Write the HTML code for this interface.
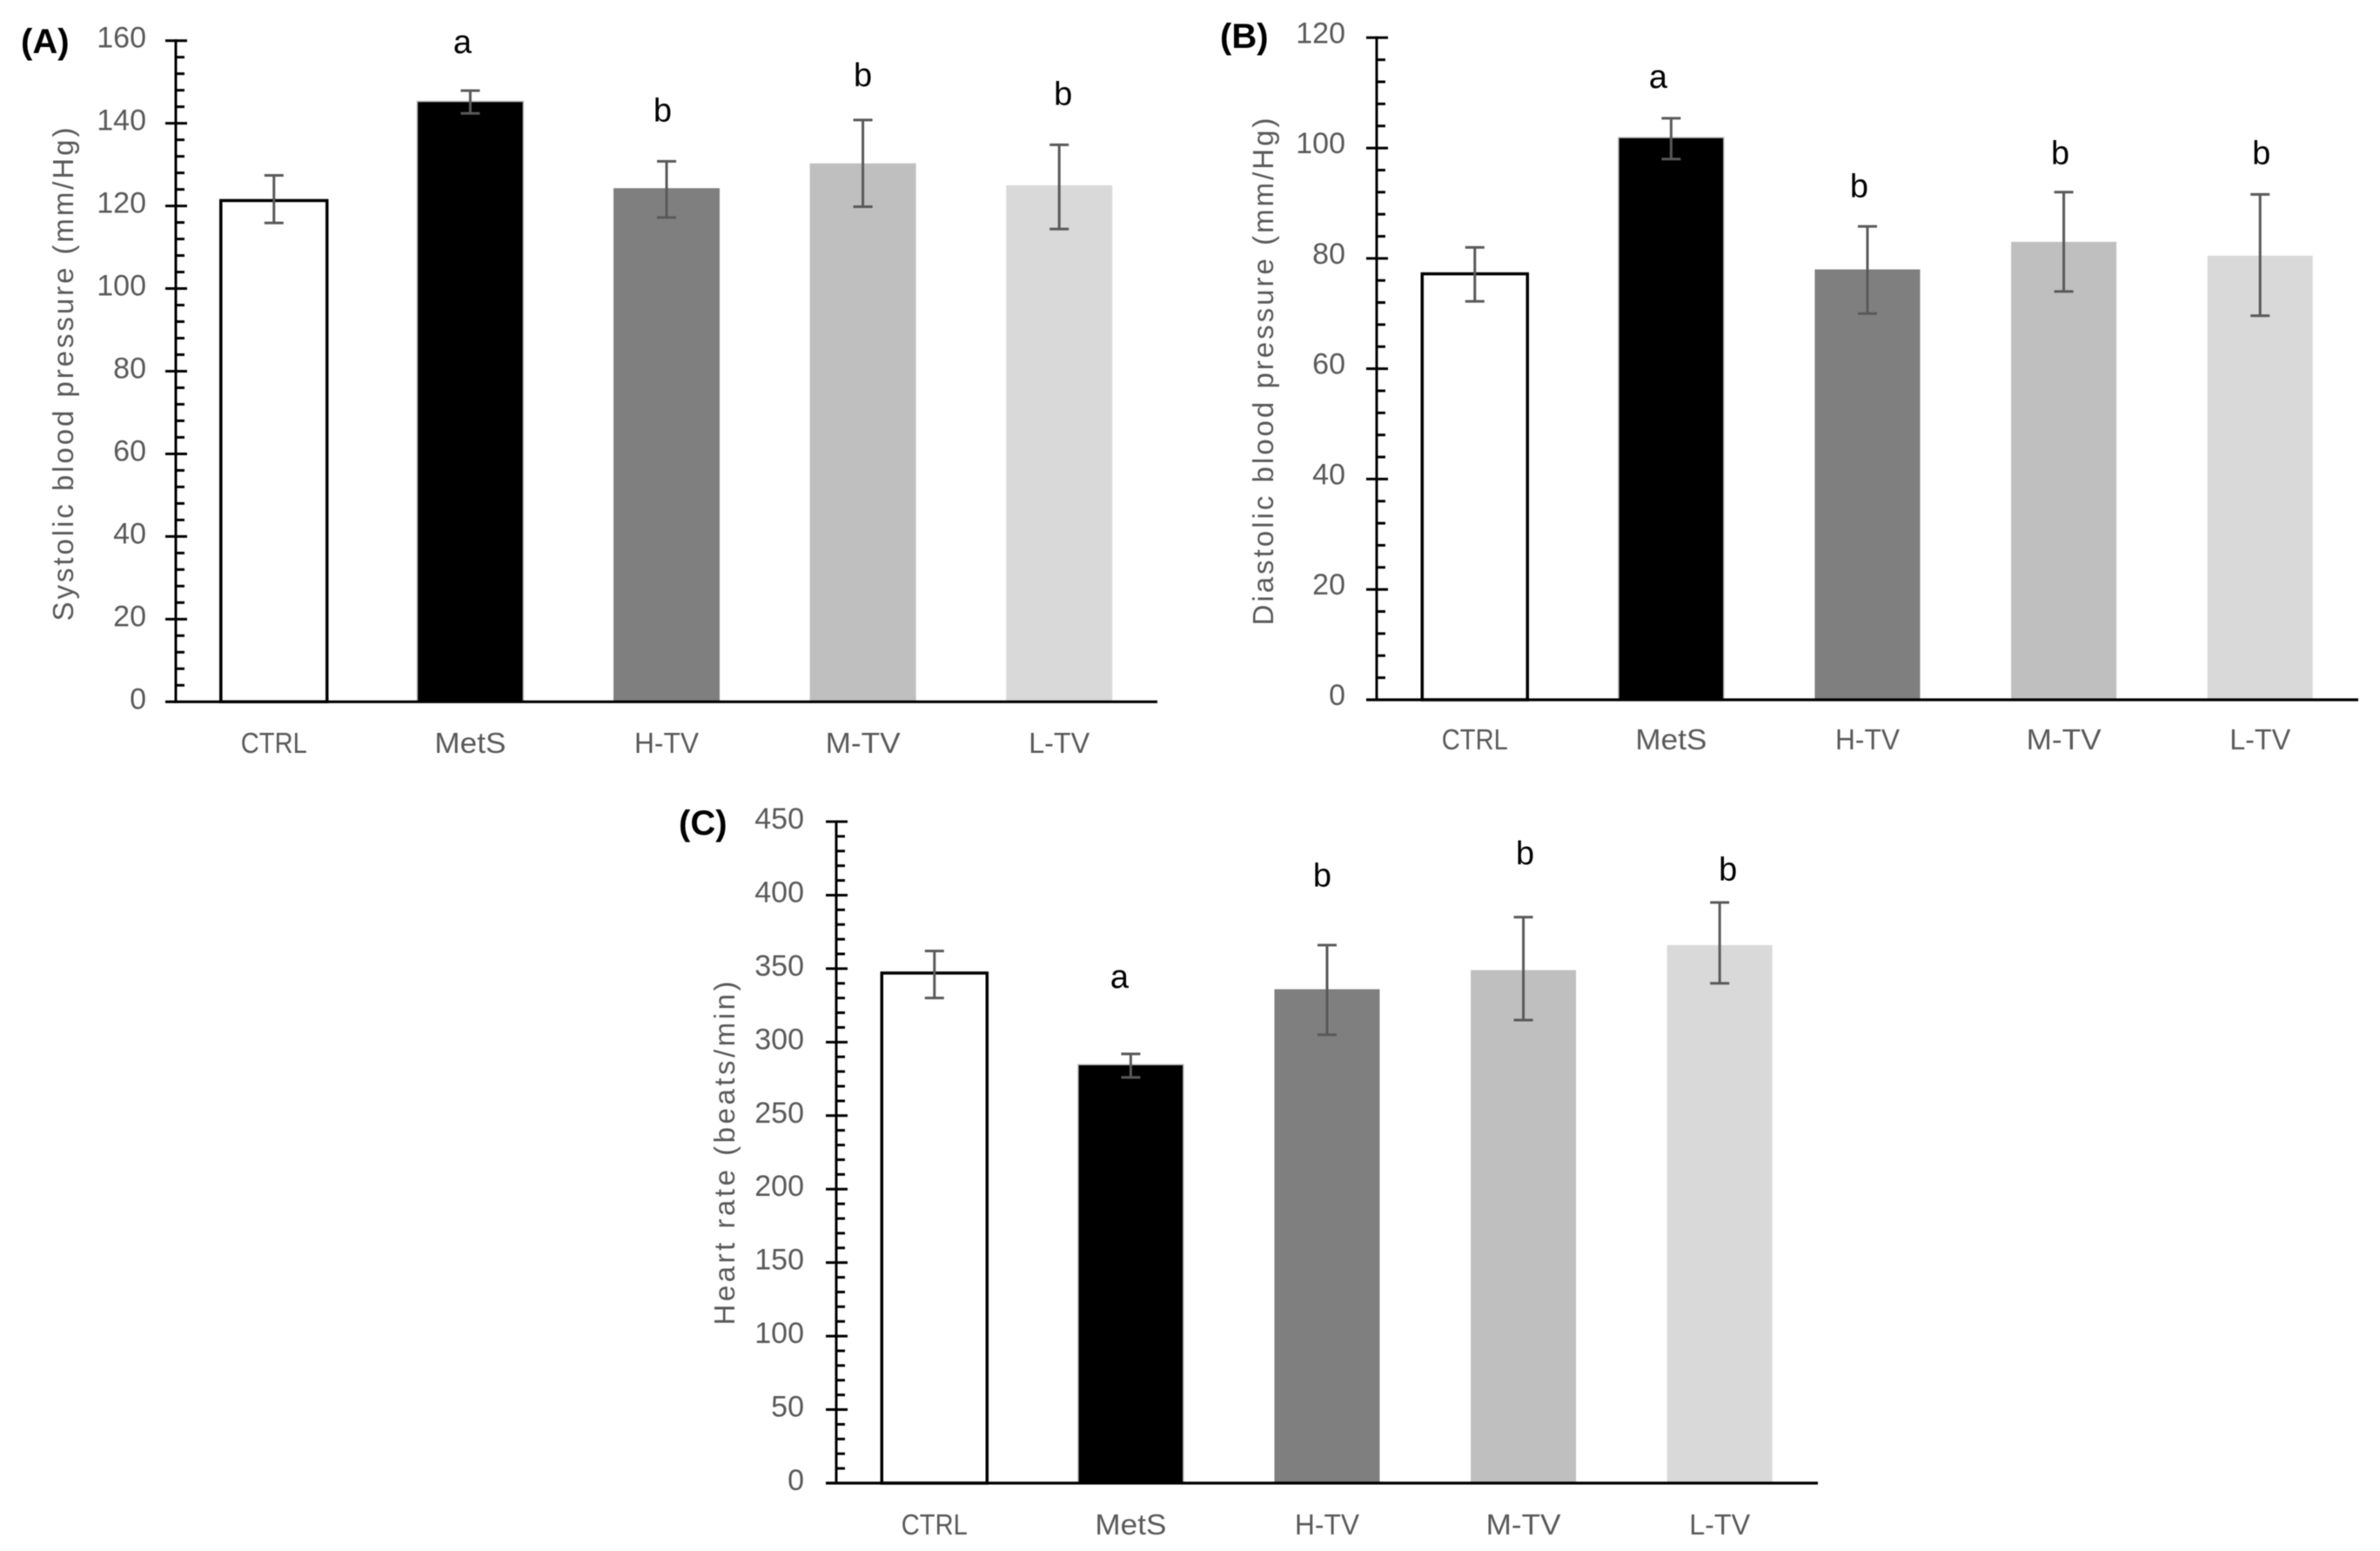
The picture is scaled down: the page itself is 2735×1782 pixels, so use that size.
<!DOCTYPE html>
<html lang="en">
<head>
<meta charset="utf-8">
<title>Blood pressure and heart rate bar charts</title>
<style>
html,body{margin:0;padding:0;background:#fff;}
body{width:2735px;height:1782px;overflow:hidden;}
svg{display:block;font-family:"Liberation Sans",sans-serif;filter:blur(0.5px);}
</style>
</head>
<body>
<svg id="figure" xmlns="http://www.w3.org/2000/svg" width="2735" height="1782" viewBox="0 0 2735 1782"></svg>
<script>
const categories = ['CTRL', 'MetS', 'H-TV', 'M-TV', 'L-TV'];
const categorySlugs = ['ctrl', 'mets', 'h-tv', 'm-tv', 'l-tv'];
const categoryLabelWidths = [76, 82, 74, 86, 70];
const barFills = ['#ffffff', '#000000', '#7f7f7f', '#bfbfbf', '#d9d9d9'];
const barStrokes = ['#000000', '#bdbdbd', 'none', 'none', 'none'];

const systolicValues = [121.3, 145.3, 124.3, 130.3, 125];
const systolicErrHigh = [127.4, 147.9, 130.8, 140.8, 134.8];
const systolicErrLow = [115.9, 142.4, 117.2, 119.8, 114.4];
const systolicTicks = [0, 20, 40, 60, 80, 100, 120, 140, 160];
const systolicLetters = ['', 'a', 'b', 'b', 'b'];
const systolicLetterLevels = [0, 157, 140.5, 149, 144.5];

const diastolicValues = [77.2, 101.9, 78, 83, 80.5];
const diastolicErrHigh = [82, 105.4, 85.8, 92, 91.6];
const diastolicErrLow = [72.2, 98, 70, 74, 69.6];
const diastolicTicks = [0, 20, 40, 60, 80, 100, 120];
const diastolicLetters = ['', 'a', 'b', 'b', 'b'];
const diastolicLetterLevels = [0, 110.9, 91.1, 97.1, 97.1];

const heartValues = [347, 284.7, 336, 349, 366];
const heartErrHigh = [362, 292, 366, 385, 395];
const heartErrLow = [330, 276, 305, 315, 340];
const heartTicks = [0, 50, 100, 150, 200, 250, 300, 350, 400, 450];
const heartLetters = ['', 'a', 'b', 'b', 'b'];
const heartLetterLevels = [0, 337, 406, 421, 410];

const svgNS = 'http://www.w3.org/2000/svg';
const figure = document.getElementById('figure');

function make(tag, attrs, parent, text) {
  const node = document.createElementNS(svgNS, tag);
  for (const k in attrs) node.setAttribute(k, attrs[k]);
  if (text !== undefined) node.textContent = text;
  parent.appendChild(node);
  return node;
}

function drawPanel(p) {
  const g = make('g', {}, figure);
  
  

  const maxV = p.ticks[p.ticks.length - 1];
  const y = v => p.zero - (v / maxV) * (p.zero - p.top);
  const band = (p.right - p.left) / categories.length;
  const x = i => p.left + band * (i + 0.5);

  categories.forEach((c, i) => {
    const topY = y(p.values[i]);
    const bar = make('rect', {
      x: x(i) - p.barW / 2, y: topY, width: p.barW, height: p.zero - topY,
      fill: barFills[i], stroke: barStrokes[i],
      'stroke-width': i === 0 ? 3.5 : 1.5
    }, g);
    
    
  });

  categories.forEach((c, i) => {
    const eg = make('g', { stroke: '#595959', 'stroke-width': 3, fill: 'none' }, g);
    
    
    const hi = y(p.errHigh[i]), lo = y(p.errLow[i]), cx = x(i) + p.errShift;
    make('line', { x1: cx, x2: cx, y1: hi, y2: lo }, eg);
    make('line', { x1: cx - 11, x2: cx + 11, y1: hi, y2: hi }, eg);
    make('line', { x1: cx - 11, x2: cx + 11, y1: lo, y2: lo }, eg);
  });

  const axisY = make('line', { x1: p.left, x2: p.left, y1: p.top - 1.5, y2: p.zero + 1.5, stroke: '#000', 'stroke-width': 3 }, g);
  
  
  const axisX = make('line', { x1: p.left - 12, x2: p.right, y1: p.zero, y2: p.zero, stroke: '#000', 'stroke-width': 3.2 }, g);
  
  

  const majorStep = p.ticks[1] - p.ticks[0];
  p.ticks.forEach((t, idx) => {
    const ty = y(t);
    if (idx > 0) {
      const mt = make('line', { x1: p.left - 12, x2: p.left + 13, y1: ty, y2: ty, stroke: '#000', 'stroke-width': 3 }, g);
      
      
    }
    if (idx < p.ticks.length - 1) {
      for (let m = 1; m < 5; m++) {
        const my = y(t + majorStep * m / 5);
        const mn = make('line', { x1: p.left, x2: p.left + 10, y1: my, y2: my, stroke: '#000', 'stroke-width': 3 }, g);
        
        
      }
    }
    const lab = make('text', { x: p.labelRight, y: ty + p.labelDy, 'text-anchor': 'end', 'font-size': 34, fill: '#595959' }, g, String(t));
    
    
  });

  categories.forEach((c, i) => {
    const lab = make('text', {
      x: x(i), y: p.catBase, 'text-anchor': 'middle', 'font-size': 33, fill: '#595959',
      textLength: categoryLabelWidths[i], lengthAdjust: 'spacingAndGlyphs'
    }, g, c);
    
    
  });

  const title = make('text', {
    transform: 'translate(' + p.titleX + ' ' + p.titleMid + ') rotate(-90)',
    'text-anchor': 'middle', 'font-size': 33, fill: '#595959',
    textLength: p.titleLen, lengthAdjust: 'spacing'
  }, g, p.title);
  
  

  const panelLabel = make('text', { x: p.tagX, y: p.tagY, 'font-size': 40, 'font-weight': 'bold', fill: '#000' }, g, p.tag);
  
  

  p.letters.forEach((l, i) => {
    if (!l) return;
    const sig = make('text', {
      x: x(i) + p.letterStart + p.letterStep * (i - 1),
      y: y(p.letterLevels[i]),
      'text-anchor': 'middle', 'font-size': 38, fill: '#000'
    }, g, l);
    
    
  });
}

drawPanel({
  id: 'a', tag: '(A)', tagX: 24, tagY: 61, title: 'Systolic blood pressure (mm/Hg)',
  titleX: 84, titleMid: 430, titleLen: 567,
  left: 202, right: 1330, top: 46.7, zero: 806.3, barW: 122, errShift: 0,
  labelRight: 168, labelDy: 8, catBase: 865, letterStart: -9, letterStep: 4.5,
  values: systolicValues, errHigh: systolicErrHigh, errLow: systolicErrLow,
  ticks: systolicTicks, letters: systolicLetters, letterLevels: systolicLetterLevels
});
drawPanel({
  id: 'b', tag: '(B)', tagX: 1402, tagY: 55, title: 'Diastolic blood pressure (mm/Hg)',
  titleX: 1463, titleMid: 427, titleLen: 583,
  left: 1582, right: 2710, top: 43.3, zero: 804, barW: 121, errShift: 0,
  labelRight: 1546, labelDy: 6, catBase: 861, letterStart: -15, letterStep: 5.5,
  values: diastolicValues, errHigh: diastolicErrHigh, errLow: diastolicErrLow,
  ticks: diastolicTicks, letters: diastolicLetters, letterLevels: diastolicLetterLevels
});
drawPanel({
  id: 'c', tag: '(C)', tagX: 780, tagY: 959, title: 'Heart rate (beats/min)',
  titleX: 844, titleMid: 1325, titleLen: 395,
  left: 961, right: 2089, top: 944, zero: 1704, barW: 121, errShift: 0,
  labelRight: 924, labelDy: 8, catBase: 1763, letterStart: -13, letterStep: 7.5,
  values: heartValues, errHigh: heartErrHigh, errLow: heartErrLow,
  ticks: heartTicks, letters: heartLetters, letterLevels: heartLetterLevels
});
</script>
</body>
</html>
